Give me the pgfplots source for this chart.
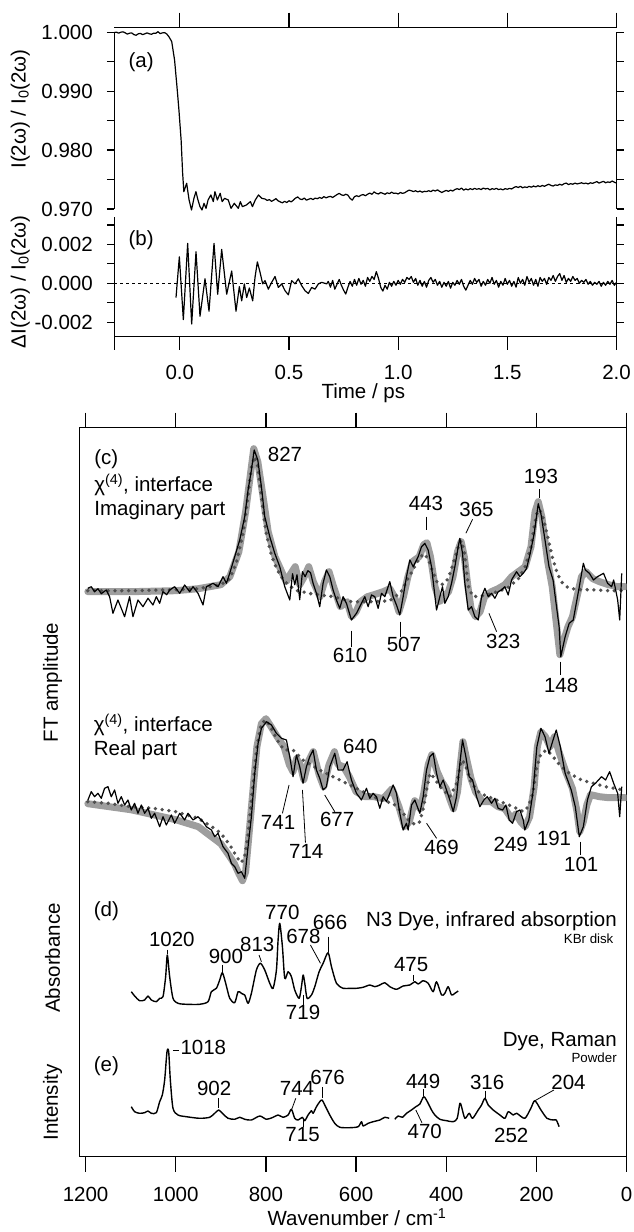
\documentclass[border=0pt]{standalone}
\usepackage{fontspec}
\setmainfont{Liberation Sans}
\usepackage{pgfplots}
\pgfplotsset{compat=1.18}
\definecolor{fitgray}{RGB}{158,158,158}
\definecolor{dotgray}{RGB}{80,80,80}
\newcommand{\fs}{\fontsize{20.5}{24}\selectfont}
\newcommand{\fss}{\fontsize{13.3}{15}\selectfont}
\tikzset{lab/.style={font=\fs, inner sep=0pt}, slab/.style={font=\fss, inner sep=0pt}, ld/.style={black, line width=0.8pt}}
\pgfplotsset{
  base/.style={scale only axis, anchor=south west, tick align=outside,
    axis line style={line width=1.4pt}, tick style={line width=1.3pt, black},
    tick label style={font=\fs, inner sep=0pt}},
  blk/.style={black, line width=1.2pt, line join=round, mark=none},
  sblk/.style={black, line width=1.4pt, line join=round, mark=none, smooth, tension=0.45},
  fit/.style={fitgray, line width=7pt, line join=round, line cap=round, mark=none},
  dots/.style={dotgray, line width=3.8pt, line cap=round, dash pattern=on 0pt off 6.8pt, mark=none},
}
\begin{document}
\begin{tikzpicture}
\useasboundingbox (0pt,0pt) rectangle (633pt,1232pt);

% top axis line of panel (a)
\begin{axis}[scale only axis, at={(114.3pt,1204.3pt)}, anchor=north west, width=502.2pt, height=4.6pt,
  xmin=-0.3, xmax=2, ymin=0, ymax=1, axis x line*=top, axis y line=none,
  xtick={0,0.5,1,1.5,2}, xticklabels={{},{},{},{},{}}, xticklabel style={text opacity=0},
  tick align=outside, major tick length=15pt,
  axis line style={line width=1.4pt}, tick style={line width=1.3pt, black}]
\addplot[draw=none] coordinates {(0,0.5)};
\end{axis}

% panel (a)
\begin{axis}[base, at={(114.3pt,1023pt)}, width=502.2pt, height=176.7pt,
  xmin=-0.3, xmax=2.0, ymin=0.970, ymax=1.000,
  axis x line=none, axis y line=box,
  ytick={0.970,0.980,0.990,1.000}, yticklabels={0.970,0.980,0.990,1.000},
  minor ytick={0.975,0.985,0.995}, yticklabel pos=left,
  major tick length=7.3pt, minor tick length=7.3pt,
  yticklabel style={anchor=east, xshift=-14pt},
  scaled y ticks=false, clip=false]
\addplot[blk] coordinates {
(-0.300,0.99995) (-0.290,1.00003) (-0.280,0.99985) (-0.270,1.00002) (-0.260,1.00008) (-0.250,0.99990)
(-0.240,0.99970) (-0.230,0.99985) (-0.220,0.99988) (-0.210,0.99960) (-0.200,0.99950) (-0.190,0.99975)
(-0.180,0.99980) (-0.170,0.99960) (-0.160,0.99975) (-0.150,0.99990) (-0.140,0.99975) (-0.130,0.99966)
(-0.120,0.99985) (-0.110,0.99983) (-0.100,1.00010) (-0.090,0.99977) (-0.080,0.99990) (-0.070,0.99995)
(-0.060,0.99972) (-0.050,0.99926) (-0.037,0.99842) (-0.024,0.99530) (-0.013,0.99077) (-0.004,0.98681)
(0.006,0.98172) (0.013,0.97606) (0.0185,0.97294) (0.0314,0.97436) (0.0425,0.97153) (0.0536,0.96983)
(0.0647,0.97181) (0.0739,0.97294) (0.0832,0.97153) (0.0924,0.97040) (0.1017,0.96983) (0.1109,0.97096)
(0.1201,0.97011) (0.1294,0.97153) (0.1423,0.97238) (0.1534,0.97125) (0.1608,0.97294) (0.1719,0.97153)
(0.1848,0.97266) (0.1941,0.97125) (0.2052,0.97181) (0.2218,0.97153) (0.2348,0.97011) (0.2495,0.97096)
(0.2680,0.97011) (0.2773,0.97125) (0.2865,0.97040) (0.3050,0.97068) (0.3235,0.97125) (0.3327,0.97040)
(0.3457,0.97153) (0.3604,0.97238) (0.3752,0.97181)
(0.39,0.97170) (0.40,0.97145) (0.41,0.97160) (0.42,0.97130) (0.43,0.97150) (0.44,0.97175) (0.45,0.97140)
(0.46,0.97120) (0.47,0.97105) (0.48,0.97130) (0.49,0.97110) (0.50,0.97140) (0.51,0.97120) (0.52,0.97150)
(0.53,0.97185) (0.54,0.97205) (0.55,0.97170) (0.56,0.97160) (0.57,0.97185) (0.58,0.97150) (0.59,0.97165)
(0.60,0.97180) (0.61,0.97160) (0.62,0.97185) (0.63,0.97175) (0.64,0.97195) (0.65,0.97180) (0.66,0.97210)
(0.67,0.97190) (0.68,0.97205) (0.69,0.97215) (0.70,0.97195) (0.71,0.97220) (0.72,0.97245) (0.73,0.97265)
(0.74,0.97240) (0.75,0.97230) (0.76,0.97250) (0.77,0.97235) (0.78,0.97180) (0.79,0.97150) (0.80,0.97210)
(0.81,0.97225) (0.82,0.97210) (0.83,0.97235) (0.84,0.97245) (0.85,0.97225) (0.86,0.97250) (0.87,0.97270)
(0.88,0.97250) (0.89,0.97290) (0.90,0.97265) (0.91,0.97255) (0.92,0.97280) (0.93,0.97265) (0.94,0.97250)
(0.95,0.97275) (0.96,0.97260) (0.97,0.97285) (0.98,0.97265) (0.99,0.97270) (1.00,0.97255) (1.01,0.97280)
(1.02,0.97265) (1.03,0.97275) (1.04,0.97300) (1.05,0.97320) (1.06,0.97310) (1.07,0.97295) (1.08,0.97310)
(1.09,0.97290) (1.10,0.97305) (1.11,0.97285) (1.12,0.97300) (1.13,0.97295) (1.14,0.97310) (1.15,0.97295)
(1.16,0.97320) (1.17,0.97305) (1.18,0.97325) (1.19,0.97300) (1.20,0.97280) (1.21,0.97300) (1.22,0.97315)
(1.23,0.97300) (1.24,0.97320) (1.25,0.97305) (1.26,0.97330) (1.27,0.97345) (1.28,0.97330) (1.29,0.97355)
(1.30,0.97320) (1.31,0.97340) (1.32,0.97325) (1.33,0.97345) (1.34,0.97330) (1.35,0.97350) (1.36,0.97335)
(1.37,0.97345) (1.38,0.97330) (1.39,0.97355) (1.40,0.97340) (1.41,0.97350) (1.42,0.97325) (1.43,0.97345)
(1.44,0.97335) (1.45,0.97350) (1.46,0.97330) (1.47,0.97340) (1.48,0.97325) (1.49,0.97345) (1.50,0.97335)
(1.51,0.97350) (1.52,0.97340) (1.53,0.97365) (1.54,0.97380) (1.55,0.97365) (1.56,0.97385) (1.57,0.97360)
(1.58,0.97375) (1.59,0.97365) (1.60,0.97385) (1.61,0.97370) (1.62,0.97390) (1.63,0.97375) (1.64,0.97395)
(1.65,0.97380) (1.66,0.97400) (1.67,0.97385) (1.68,0.97405) (1.69,0.97420) (1.70,0.97400) (1.71,0.97390)
(1.72,0.97410) (1.73,0.97400) (1.74,0.97420) (1.75,0.97405) (1.76,0.97430) (1.77,0.97440) (1.78,0.97415)
(1.79,0.97430) (1.80,0.97420) (1.81,0.97440) (1.82,0.97425) (1.83,0.97435) (1.84,0.97445) (1.85,0.97430)
(1.86,0.97440) (1.87,0.97425) (1.88,0.97445) (1.89,0.97435) (1.90,0.97450) (1.91,0.97465) (1.92,0.97440)
(1.93,0.97455) (1.94,0.97470) (1.95,0.97445) (1.96,0.97460) (1.97,0.97450) (1.98,0.97475) (1.99,0.97455)
(2.00,0.97440)};
\end{axis}

% panel (b)
\begin{axis}[base, at={(114.3pt,895.3pt)}, width=502.2pt, height=120pt,
  xmin=-0.3, xmax=2.0, ymin=-0.00274, ymax=0.00342,
  axis x line*=bottom, axis y line=box,
  xtick={-0.3,0,0.5,1,1.5,2}, xticklabels={{},0.0,0.5,1.0,1.5,2.0},
  ytick={-0.002,0,0.002}, yticklabels={-0.002,0.000,0.002},
  minor ytick={-0.001,0.001,0.003}, yticklabel pos=left,
  major tick length=7.3pt, minor tick length=7.3pt,
  xtick style={/pgfplots/major tick length=13.3pt},
  xticklabel style={anchor=north, yshift=-21pt},
  yticklabel style={anchor=east, xshift=-14pt},
  scaled y ticks=false, scaled x ticks=false, clip=false]
\addplot[black, line width=0.9pt, dash pattern=on 3pt off 3pt, mark=none] coordinates {(-0.3,0) (2.0,0)};
\addplot[blk] coordinates {
(-0.0174,-0.00073) (-0.0021,0.00136) (0.0162,-0.00186) (0.0360,0.00205) (0.0544,-0.00209) (0.0742,0.00162)
(0.0925,-0.00169) (0.1154,0.00023) (0.1338,-0.00143) (0.1567,0.00205) (0.1735,-0.00056) (0.1918,0.00174)
(0.2147,-0.00056) (0.2376,0.00063) (0.2574,-0.00143) (0.2727,-0.00017) (0.2834,-0.00090) (0.2956,-0.00003)
(0.3063,-0.00073) (0.3185,-0.00024) (0.3338,-0.00090) (0.3445,0.00031) (0.3552,0.00110) (0.3674,0.00057)
(0.3796,-0.00003) (0.3903,0.00014) (0.4055,-0.00030) (0.4208,0.00005) (0.4361,0.00035) (0.4513,-0.00021)
(0.4666,-0.00003) (0.4819,-0.00038) (0.4971,-0.00059) (0.5124,0.00014) (0.5277,-0.00003) (0.5429,0.00023)
(0.5582,-0.00012) (0.5735,-0.00038) (0.5887,-0.00052) (0.6040,-0.00021) (0.6193,-0.00030) (0.6345,-0.00003)
(0.6498,0.00005) (0.6727,-0.00003)
(0.68,0.00010) (0.69,-0.00020) (0.70,0.00015) (0.71,-0.00030) (0.72,-0.00005) (0.73,0.00020) (0.74,-0.00010)
(0.75,-0.00035) (0.76,-0.00055) (0.77,-0.00020) (0.78,0.00010) (0.79,-0.00015) (0.80,0.00020) (0.81,-0.00010)
(0.82,0.00025) (0.83,-0.00005) (0.84,0.00015) (0.85,-0.00015) (0.86,0.00030) (0.87,0.00010) (0.88,0.00035)
(0.89,0.00020) (0.90,0.00060) (0.91,0.00025) (0.92,-0.00020) (0.93,-0.00040) (0.94,-0.00010) (0.95,-0.00030)
(0.96,0.00005) (0.97,-0.00015) (0.98,0.00010) (0.99,-0.00010) (1.00,0.00015) (1.01,-0.00005) (1.02,0.00020)
(1.03,0.00005) (1.04,0.00030) (1.05,0.00020) (1.06,0.00035) (1.07,0.00005) (1.08,0.00025) (1.09,-0.00010)
(1.10,0.00015) (1.11,-0.00015) (1.12,0.00010) (1.13,-0.00020) (1.14,0.00015) (1.15,0.00030) (1.16,0.00005)
(1.17,0.00020) (1.18,-0.00010) (1.19,0.00010) (1.20,-0.00020) (1.21,0.00005) (1.22,-0.00015) (1.23,0.00010)
(1.24,-0.00025) (1.25,0.00005) (1.26,-0.00010) (1.27,0.00015) (1.28,-0.00005) (1.29,0.00020) (1.30,-0.00015)
(1.31,-0.00035) (1.32,-0.00010) (1.33,0.00015) (1.34,-0.00005) (1.35,0.00025) (1.36,0.00005) (1.37,0.00020)
(1.38,-0.00015) (1.39,0.00010) (1.40,-0.00010) (1.41,0.00020) (1.42,0.00000) (1.43,0.00030) (1.44,-0.00005)
(1.45,0.00015) (1.46,-0.00020) (1.47,0.00010) (1.48,-0.00010) (1.49,0.00025) (1.50,-0.00005) (1.51,0.00015)
(1.52,-0.00015) (1.53,0.00010) (1.54,-0.00020) (1.55,0.00030) (1.56,0.00000) (1.57,0.00020) (1.58,-0.00010)
(1.59,0.00035) (1.60,0.00005) (1.61,0.00025) (1.62,-0.00010) (1.63,0.00020) (1.64,-0.00015) (1.65,0.00030)
(1.66,0.00010) (1.67,0.00025) (1.68,-0.00005) (1.69,0.00030) (1.70,0.00015) (1.71,0.00040) (1.72,0.00010)
(1.73,0.00035) (1.74,0.00050) (1.75,0.00015) (1.76,0.00040) (1.77,0.00005) (1.78,0.00025) (1.79,0.00010)
(1.80,0.00035) (1.81,0.00015) (1.82,0.00025) (1.83,0.00000) (1.84,0.00015) (1.85,0.00005) (1.86,0.00020)
(1.87,-0.00005) (1.88,0.00010) (1.89,-0.00010) (1.90,0.00005) (1.91,-0.00005) (1.92,0.00010) (1.93,-0.00015)
(1.94,0.00005) (1.95,-0.00010) (1.96,0.00010) (1.97,-0.00005) (1.98,0.00015) (1.99,-0.00010) (2.00,0.00005)};
\end{axis}

\node[lab, rotate=90] at (20.2pt,1123pt) {I(2ω) / I\textsubscript{0}(2ω)};
\node[lab, rotate=90] at (20.2pt,950.3pt) {ΔI(2ω) / I\textsubscript{0}(2ω)};
\node[lab, anchor=base west] at (128.4pt,1164.3pt) {(a)};
\node[lab, anchor=base west] at (128.4pt,986pt) {(b)};
\node[lab, anchor=base] at (363.3pt,833pt) {Time / ps};

% big panel (c)-(e)
\begin{axis}[base, at={(79.5pt,75.3pt)}, width=547.1pt, height=729pt,
  x dir=reverse, xmin=0, xmax=1213.5, ymin=0, ymax=729,
  ytick=\empty, xtick={0,200,400,600,800,1000,1200},
  xticklabels={0,200,400,600,800,1000,1200}, xtick pos=both, xticklabel pos=bottom,
  major tick length=15pt,
  xticklabel style={anchor=north, yshift=-15pt},
  scaled x ticks=false]
% imaginary part
\addplot[fit] coordinates {
(1195,565) (1100,565) (1000,566) (950,568) (900,572) (880,580) (860,605) (845,645) (835,680) (827,708) (818,695)
(808,665) (795,625) (780,600) (765,585) (755,575) (745,583) (735,590) (725,572) (715,580) (705,590) (695,575)
(680,560) (670,575) (660,585) (650,570) (635,550) (620,555) (610,540) (600,545) (590,555) (575,560) (560,562)
(540,565) (525,568) (515,560) (505,545) (495,560) (485,580) (475,595) (460,600) (450,612) (443,614) (435,600)
(425,570) (415,555) (405,560) (395,565) (385,580) (375,605) (367,615) (360,600) (352,570) (345,548) (335,540)
(325,545) (315,560) (300,565) (285,568) (270,572) (255,580) (240,585) (225,590) (212,610) (203,645) (196,655)
(188,640) (175,595) (165,570) (155,530) (148,502) (140,515) (130,530) (120,540) (110,560) (100,580) (90,585)
(75,578) (60,575) (40,572) (20,570) (3,570)};
\addplot[dots] coordinates {
(1195,566) (1100,566) (1000,567) (950,568) (900,572) (880,578) (865,595) (850,625) (840,660) (832,690) (825,700)
(818,690) (810,660) (800,625) (790,605) (780,592) (770,583) (760,576) (745,570) (730,566) (700,563) (650,560)
(610,555) (560,555) (525,556) (500,565) (485,578) (470,590) (460,598) (450,603) (440,598) (430,585) (420,574)
(410,572) (400,575) (390,585) (380,600) (372,612) (367,616) (360,605) (355,585) (350,568) (340,560) (320,561)
(300,563) (280,566) (260,570) (240,578) (225,590) (212,610) (205,630) (198,645) (193,647) (186,640) (175,620)
(165,600) (155,585) (145,575) (130,569) (110,567) (80,567) (40,566) (5,566)};
\addplot[blk] coordinates {
(1194.8,568.4) (1187.4,570) (1180,565) (1172.6,568) (1165.2,563) (1154.1,566.7) (1146.7,560) (1139.3,543.4)
(1128.2,556.7) (1113.4,540) (1102.3,560) (1094.9,540) (1083.8,556.7) (1072.7,550) (1061.6,558.4) (1050.5,551.7)
(1043.1,560) (1035.7,553.4) (1028.3,565) (1020,562) (1013.5,566.7) (1002.4,570) (991.3,563.4) (980.2,571.7)
(969.1,565) (961.7,570) (950.6,563.4) (939.5,551.7) (932.1,570) (917.3,573.4) (906.2,570) (895.1,580)
(887.7,573.4) (880.3,583.4) (869.2,600) (858.1,616.7) (847,640) (839.6,666.7) (832.2,686.7) (826,706.7)
(818,696.7) (810,670) (802.6,640) (791.5,620) (780.4,603.4) (769.3,590) (758.2,570) (747.1,556.7) (741,583)
(736,572) (731,582) (725,557) (719,585) (713,580) (707,586) (701,584) (695.4,573.4) (688,563.4) (680.6,550)
(673.2,573.4) (665.8,586.7) (658.4,580) (651,566.7) (643.6,556.7) (636.2,548.4) (628.8,560) (621.4,553.4)
(610.3,536.7) (599.2,543.4) (588.1,553.4) (580.7,560) (573.3,550) (565.9,561.7) (558.5,560) (551.1,548.4)
(543.7,563.4) (536.3,560) (525.2,575) (517.8,560) (510.4,551.7) (503,541.7) (495.6,560) (488.2,580)
(480.8,596.7) (473.4,590) (462.3,600) (454.9,610) (447.5,613.4) (440.1,606.7) (432.7,590) (421.6,546.7)
(414.2,560) (408.3,570) (403.1,553.4) (395.7,560) (388.3,573.4) (380.9,590) (373.5,610) (369.8,618.4)
(363.9,603.4) (358.7,573.4) (351.3,546.7) (343.9,550) (336.5,540) (329.1,536.7) (321.7,560) (314.3,568.4)
(306.9,560) (299.5,563.4) (292.1,558.4) (284.8,565) (277.4,566.7) (270,570) (262.6,561.7) (255.2,576.7)
(244.1,585) (236.6,580) (229.2,583.4) (222,588) (214,603) (205,623) (196,653) (190,643) (181,616.7)
(172.1,590) (163.1,576.7) (149.7,530) (146,500) (136.3,520) (127.3,533.4) (118.3,536.7) (104.9,570)
(95.9,593.4) (91.4,586.7) (82.5,583.4) (73.5,576.7) (64.6,580) (51.1,583.4) (42.2,573.4) (33.2,570)
(28.7,576.7) (19.8,556.7) (15.3,536.7) (10.8,583.4)};
% real part
\addplot[fit] coordinates {
(1195,353) (1100,347) (1000,337) (950,330) (900,313) (880,300) (870,293) (860,283) (852,276) (845,285) (840,310)
(830,360) (820,410) (810,433) (800,438) (790,431) (775,420) (760,410) (748,392) (740,385) (732,398) (724,392)
(716,377) (706,395) (695,405) (682,382) (672,370) (660,392) (648,405) (640,392) (628,390) (615,380) (600,365)
(580,360) (560,360) (540,358) (520,368) (505,350) (492,330) (482,335) (470,356) (458,348) (450,363) (440,392)
(432,402) (420,385) (410,375) (400,368) (390,355) (384,348) (375,365) (368,395) (363,415) (355,398) (345,378)
(335,365) (320,355) (300,355) (285,350) (270,348) (255,338) (245,343) (235,335) (225,330) (215,340) (205,370)
(198,410) (190,425) (180,420) (170,410) (160,420) (150,405) (135,385) (120,368) (110,345) (104,325) (96,335)
(88,352) (80,362) (60,360) (40,359) (3,359)};
\addplot[dots] coordinates {
(1195,355) (1150,353.4) (1100,350) (1050,348.4) (1000,345) (950,338.4) (920,330) (900,323.4) (880,311.7)
(865,300) (856,294) (848,298) (840,320) (830,366.7) (820,410) (810,433.4) (800,436.7) (790,430) (775,416.7)
(760,406.7) (740,406.7) (718,396.7) (681,386.7) (651,380) (621.4,373.4) (592,366.7) (562,360) (533,355)
(518,353.4) (495.6,343.4) (481,335) (468,332) (458.6,335) (450,350) (443.8,366.7) (436,383.4) (429,380)
(414,370) (392,360) (377,373.4) (366,396.7) (359,393.4) (344,373.4) (325.4,363.4) (288.4,356.7) (244,348.4)
(229,345) (218,350) (208,363.4) (199,390) (190,403.4) (176.5,406.7) (163,400) (145,390) (127,383.4)
(100,376.7) (73.5,373.4) (46.6,370) (8,366.7)};
\addplot[blk] coordinates {
(1194.8,356.7) (1187.4,365) (1180,360) (1172.6,363.4) (1165.2,358.4) (1157.8,368.4) (1150.4,370) (1143,360)
(1135.6,366.7) (1128.2,353.4) (1120.8,360) (1113.4,351.7) (1106,356.7) (1098.6,346.7) (1091.2,353.4)
(1083.8,343.4) (1076.4,351.7) (1069,343.4) (1061.6,348.4) (1054.2,338.4) (1046.8,343.4) (1035.7,330)
(1028.3,340) (1020.9,331.7) (1009.8,341.7) (1002.4,333.4) (991.3,343.4) (980.2,336.7) (972.8,343.4)
(961.7,336.7) (950.6,340) (939.5,335) (932.1,330) (921,326.7) (913.6,320) (906.2,323.4) (895.1,310)
(884,303.4) (876.6,293.4) (869.2,290) (861.8,283.4) (854.4,285) (847,278.4) (839.6,310) (832.2,340)
(824.8,383.4) (817.4,413.4) (810,428.4) (798.8,435) (787.8,431.7) (776.7,423.4) (765.6,418.4) (754.5,416.7)
(747.2,400) (739.8,380) (732.4,401.7) (725,390) (717.6,373.4) (710.2,390) (702.8,400) (695.4,406.7)
(688,386.7) (680.6,378.4) (673.2,366.7) (665.8,370) (658.4,390) (647.3,403.4) (640,386.7) (628.8,386.7)
(620,395) (610.3,376.7) (599.2,363.4) (588.1,356.7) (577,368.4) (569.6,358.4) (562.2,363.4) (554.8,360)
(547.4,348.4) (540,360) (532.6,355) (525.2,363.4) (517.8,371.7) (510.4,363.4) (503,343.4) (495.6,326.7)
(488.2,333.4) (484.5,326.7) (477.1,351.7) (469.7,356.7) (458.6,343.4) (451.2,360) (443.8,386.7) (436.4,400)
(429,403.4) (421.6,383.4) (414.2,370) (406.8,376.7) (399.4,366.7) (392,356.7) (384.6,345) (377.2,360)
(369.8,393.4) (363.9,416.7) (356.5,400) (349.1,380) (341.7,376.7) (332.8,360) (325.4,350) (316.6,356.7)
(309.2,360) (299.5,353.4) (292.1,358.4) (284.8,348.4) (275.1,346.7) (267.7,351.7) (260.3,336.7) (252.9,333.4)
(244.1,345) (236.6,346.7) (229.2,336.7) (225.9,326.7) (216.9,336.7) (207.9,363.4) (199,410) (190,428.4)
(181,420) (172.1,403.4) (163.1,416.7) (156,426.7) (147,410) (136.3,383.4) (122.8,366.7) (113.8,350)
(104.9,320) (95.9,330) (86.9,356.7) (78,370) (69.1,373.4) (55.6,380) (46.6,376.7) (37.6,385) (28.7,373.4)
(19.8,363.4) (15.3,340) (10.8,370)};
% (d) IR absorption
\addplot[sblk] coordinates {
(1098.6,165) (1091.2,160.7) (1080.1,156) (1069,156.7) (1061.6,160.7) (1054.2,156.7) (1043.1,155) (1035.7,158.4)
(1028.3,160) (1022.4,180) (1018.7,201.7) (1013.5,180) (1006.1,158.4) (995,153.4) (976.5,152.4) (946.9,152.4)
(928.4,155) (921,165) (909.9,168.4) (902.5,176.7) (896.6,184) (889.2,173.4) (880.3,158.4) (869.2,154)
(861.8,165) (854.4,163.4) (847,161.7) (839.6,153.4) (832.2,163.4) (821.1,186.7) (812.3,193.4) (802.6,186.7)
(791.5,173.4) (784.1,168.4) (776.7,186.7) (773,216.7) (769.3,233.4) (763.4,210) (758.2,178.4) (750.8,185)
(743.4,180) (736.1,166.7) (726.4,158.4) (721.2,170) (717.5,181.7) (713.8,173.4) (708.7,158.4) (699,161.7)
(691.6,170) (682,185) (673.1,193.4) (662.1,204) (654.6,190) (643.5,173.4) (628.7,168.4) (613.9,168.4)
(599.1,168.4) (584.3,169.4) (569.6,171.7) (558.5,170) (547.3,171.7) (536.3,174) (525.2,170) (510.4,167.4)
(495.6,170.7) (480.8,171.7) (469.7,175) (462.3,172.7) (451.2,176) (440.1,173.4) (429,165) (421.6,175)
(410.5,161.7) (403.1,163.4) (395.7,170) (388.3,161.7) (380.9,163.4) (373.5,165.7)};
% (e) Raman
\addplot[sblk] coordinates {
(1098.6,50) (1091.2,45) (1080.1,43.4) (1069,44) (1061.6,45.7) (1054.2,43.4) (1043.1,44) (1035.7,55)
(1029.8,61.7) (1024.6,76.7) (1019.4,105) (1015.7,105) (1012,76.7) (1006.1,48.4) (995,41.7) (976.5,40)
(946.9,38.4) (924.7,39.4) (913.6,43.4) (904.7,46.7) (895.1,42.7) (884,38.4) (869.2,37.4) (858.1,39.4)
(847,37.4) (832.2,36.7) (813.7,40.7) (798.8,37.4) (784.1,39.4) (773,41.7) (761.9,39.4) (750.8,41.7)
(743.4,47.4) (736.1,38.4) (728.6,36.7) (719,39.4) (713.8,36) (706.5,41.7) (699,46) (695.3,43.4) (687.9,50)
(680.6,55) (675.4,56.7) (669.5,51.7) (658.4,41.7) (647.3,33.4) (636.1,29.4) (613.9,29) (595.4,30) (588,35)
(584.3,30.7) (573.2,33.4) (562.1,35) (547.3,36.7) (536.3,39.4) (526.6,38.4)};
\addplot[sblk] coordinates {
(514.1,37.4) (506.7,40.7) (497,39.4) (488.2,43.4) (477.1,46.7) (467.5,50) (458.6,52.7) (449.7,60) (440.1,53.4)
(432.7,46.7) (425.3,41.7) (414.2,37.4) (399.4,36) (384.6,35) (375.7,38.4) (369.8,53.4) (366.1,50) (358.7,38.4)
(349.1,43.4) (341.7,38.4) (329.1,46.7) (321.7,51.7) (314.3,58.4) (306.9,51.7) (295.8,46.7) (281,41.7)
(269.9,38.4) (262.5,45) (251.4,41.7) (243.8,43.4) (225.9,38.4) (212.4,48.4) (203.5,56) (190,46.7) (176.6,38.4)
(163.1,36.7) (156,36.7) (149.7,30)};
% annotations (c) imaginary
\node[lab, anchor=base west] at (axis cs:1181,691.7) {(c)};
\node[lab, anchor=base west] at (axis cs:1181,665) {χ\textsuperscript{(4)}, interface};
\node[lab, anchor=base west] at (axis cs:1181,640.7) {Imaginary part};
\node[lab, anchor=base west] at (axis cs:796,695) {827};
\node[lab, anchor=base] at (axis cs:445,646) {443};
\draw[ld] (axis cs:443,640) -- (axis cs:443,627);
\node[lab, anchor=base] at (axis cs:333,640) {365};
\draw[ld] (axis cs:341.6,637.4) -- (axis cs:356.5,623.4);
\node[lab, anchor=base] at (axis cs:190,672.7) {193};
\draw[ld] (axis cs:194.4,667.4) -- (axis cs:194.4,658.4);
\node[lab, anchor=base] at (axis cs:613.3,494) {610};
\draw[ld] (axis cs:610,526) -- (axis cs:610,510);
\node[lab, anchor=base] at (axis cs:494,505) {507};
\draw[ld] (axis cs:501.5,535) -- (axis cs:501.5,520);
\node[lab, anchor=base] at (axis cs:273.6,508.4) {323};
\draw[ld] (axis cs:305.4,543.4) -- (axis cs:288.3,525);
\node[lab, anchor=base] at (axis cs:145.1,464) {148};
\draw[ld] (axis cs:147,495) -- (axis cs:147,481.7);
% annotations (c) real
\node[lab, anchor=base west] at (axis cs:1182,425) {χ\textsuperscript{(4)}, interface};
\node[lab, anchor=base west] at (axis cs:1182,400.7) {Real part};
\node[lab, anchor=base west] at (axis cs:629,403.4) {640};
\node[lab, anchor=base] at (axis cs:773,326.7) {741};
\draw[ld] (axis cs:748.7,371.7) -- (axis cs:763.4,343.4);
\node[lab, anchor=base] at (axis cs:710.5,298.4) {714};
\draw[ld] (axis cs:719,366.7) -- (axis cs:712.3,314);
\node[lab, anchor=base] at (axis cs:642,330) {677};
\draw[ld] (axis cs:669.5,361.7) -- (axis cs:647.3,345);
\node[lab, anchor=base] at (axis cs:410.4,301.7) {469};
\draw[ld] (axis cs:443.7,333.4) -- (axis cs:421.5,318.4);
\node[lab, anchor=base] at (axis cs:257,305) {249};
\node[lab, anchor=base] at (axis cs:161,310.7) {191};
\node[lab, anchor=base] at (axis cs:100.5,285) {101};
\draw[ld] (axis cs:102,315) -- (axis cs:102,302);
% annotations (d)
\node[lab, anchor=base west] at (axis cs:1182,240) {(d)};
\node[lab, anchor=base] at (axis cs:1008.7,210) {1020};
\draw[ld] (axis cs:1018.7,207) -- (axis cs:1018.7,202.7);
\node[lab, anchor=base] at (axis cs:888.8,193.4) {900};
\draw[ld] (axis cs:896.6,191.7) -- (axis cs:896.6,185);
\node[lab, anchor=base] at (axis cs:819.3,205) {813};
\draw[ld] (axis cs:815.3,201.7) -- (axis cs:810,195);
\node[lab, anchor=base] at (axis cs:763.6,236.7) {770};
\node[lab, anchor=base] at (axis cs:716.8,213.4) {678};
\draw[ld] (axis cs:701.2,211.7) -- (axis cs:679,193.4);
\node[lab, anchor=base] at (axis cs:657.7,226.7) {666};
\draw[ld] (axis cs:662.1,220) -- (axis cs:662.1,205);
\node[lab, anchor=base] at (axis cs:717.6,136.7) {719};
\draw[ld] (axis cs:717.6,161.7) -- (axis cs:717.6,151);
\node[lab, anchor=base] at (axis cs:477.9,185) {475};
\draw[ld] (axis cs:471.9,181.7) -- (axis cs:471.9,176);
\node[lab, anchor=base east] at (axis cs:21.5,230) {N3 Dye, infrared absorption};
\node[slab, anchor=base east] at (axis cs:28.8,213.4) {KBr disk};
% annotations (e)
\node[lab, anchor=base west] at (axis cs:1182,85) {(e)};
\draw[ld] (axis cs:1006.2,106) -- (axis cs:992.5,106);
\node[lab, anchor=base west] at (axis cs:989.8,101.7) {1018};
\node[lab, anchor=base] at (axis cs:914.8,60.7) {902};
\draw[ld] (axis cs:904.8,58.4) -- (axis cs:904.8,48.4);
\node[lab, anchor=base] at (axis cs:731,60.7) {744};
\draw[ld] (axis cs:733.8,58.4) -- (axis cs:742.7,47.4);
\node[lab, anchor=base] at (axis cs:663.2,71.7) {676};
\draw[ld] (axis cs:675.4,69.4) -- (axis cs:675.4,58.4);
\node[lab, anchor=base] at (axis cs:718.7,15) {715};
\draw[ld] (axis cs:716,37.4) -- (axis cs:716,30);
\node[lab, anchor=base] at (axis cs:451.2,68.4) {449};
\draw[ld] (axis cs:449.7,67.4) -- (axis cs:449.7,61);
\node[lab, anchor=base] at (axis cs:447.7,18.4) {470};
\draw[ld] (axis cs:467.5,46.7) -- (axis cs:454,34);
\node[lab, anchor=base] at (axis cs:309.4,67.4) {316};
\draw[ld] (axis cs:312.8,66) -- (axis cs:312.8,58.4);
\node[lab, anchor=base] at (axis cs:255.9,14) {252};
\node[lab, anchor=base] at (axis cs:128.8,66.7) {204};
\draw[ld] (axis cs:203.3,56) -- (axis cs:161.3,66.7);
\node[lab, anchor=base east] at (axis cs:21.5,110) {Dye, Raman};
\node[slab, anchor=base east] at (axis cs:21.5,94) {Powder};
\end{axis}

\node[lab, rotate=90] at (52.5pt,549.5pt) {FT amplitude};
\node[lab, rotate=90] at (52.5pt,274pt) {Absorbance};
\node[lab, rotate=90] at (52.5pt,129.5pt) {Intensity};
\node[lab, anchor=base] at (357pt,6pt) {Wavenumber / cm\textsuperscript{-1}};
\end{tikzpicture}
\end{document}
